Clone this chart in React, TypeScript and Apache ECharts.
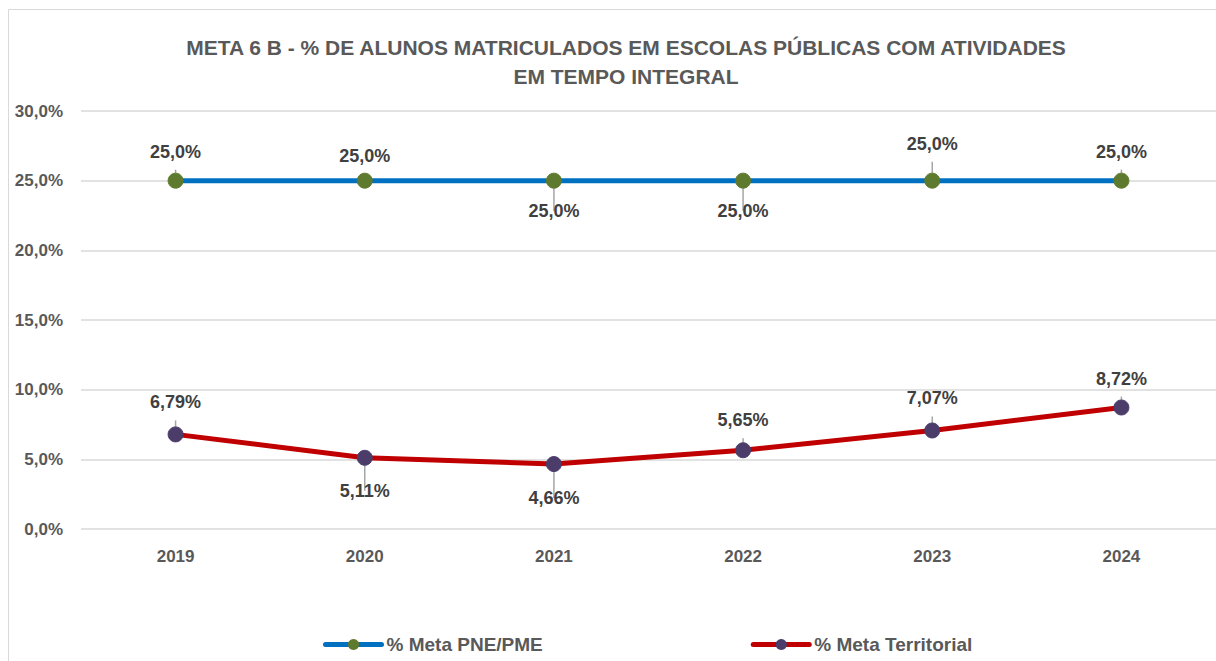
import React, { useEffect, useRef } from "react";
import * as echarts from "echarts";

const categories = ["2019", "2020", "2021", "2022", "2023", "2024"];
const metaPne = [25.0, 25.0, 25.0, 25.0, 25.0, 25.0];
const metaTerritorial = [6.79, 5.11, 4.66, 5.65, 7.07, 8.72];
const pneLabelPos = ["top", "top", "bottom", "bottom", "top", "top"];
const pneLabelDist = [12, 8, 13, 13, 20, 12];
const terrLabelPos = ["top", "bottom", "bottom", "top", "top", "top"];
const terrLabelDist = [15, 16, 17, 13, 15, 12];
const yTicks = [0, 5, 10, 15, 20, 25, 30];

const FONT = "'Liberation Sans Narrow', 'Arial Narrow', 'Liberation Sans', Arial, sans-serif";

const fmt1 = (v: number) => v.toFixed(1).replace(".", ",") + "%";
const fmt2 = (v: number) => v.toFixed(2).replace(".", ",") + "%";

export default function App() {
  const ref = useRef<HTMLDivElement>(null);
  useEffect(() => {
    if (!ref.current) return;
    const chart = echarts.init(ref.current, null, { renderer: "svg" });
    const labelStyle = {
      show: true,
      fontFamily: FONT,
      fontWeight: "bold" as const,
      fontSize: 18,
      color: "#404040",
    };
    chart.setOption({
      animation: false,
      backgroundColor: "#ffffff",
      graphic: [
        {
          type: "rect",
          shape: { x: 8.5, y: 9.5, width: 1220, height: 700 },
          style: { fill: "none", stroke: "#d9d9d9", lineWidth: 1 },
          silent: true,
        },
      ],
      title: {
        text: "META 6 B - % DE ALUNOS MATRICULADOS EM ESCOLAS PÚBLICAS COM ATIVIDADES\nEM TEMPO INTEGRAL",
        left: 621,
        top: 28,
        textAlign: "center",
        textStyle: {
          fontFamily: FONT,
          fontWeight: "bold",
          fontSize: 21,
          color: "#595959",
          lineHeight: 29,
        },
      },
      legend: {
        bottom: 2,
        left: 318,
        itemGap: 208,
        itemWidth: 56,
        itemHeight: 14,
        lineStyle: { width: 5, cap: "round" },
        textStyle: {
          fontFamily: FONT,
          fontWeight: "bold",
          fontSize: 19,
          color: "#595959",
        },
        data: ["% Meta PNE/PME", "% Meta Territorial"],
      },
      grid: { left: 81, top: 111, width: 1138, height: 418, containLabel: false },
      xAxis: {
        type: "category",
        data: categories,
        boundaryGap: true,
        axisLine: { show: false },
        axisTick: { show: false },
        axisLabel: {
          fontFamily: FONT,
          fontWeight: "bold",
          fontSize: 17,
          color: "#595959",
          margin: 19,
        },
      },
      yAxis: {
        type: "value",
        min: yTicks[0],
        max: yTicks[yTicks.length - 1],
        interval: 5,
        axisLine: { show: false },
        axisTick: { show: false },
        splitLine: { lineStyle: { color: "#d9d9d9", width: 1.5 } },
        axisLabel: {
          fontFamily: FONT,
          fontWeight: "bold",
          fontSize: 17,
          color: "#595959",
          margin: 18,
          formatter: (v: number) => fmt1(v),
        },
      },
      series: [
        {
          name: "% Meta PNE/PME",
          type: "line",
          data: metaPne.map((v, i) => ({
            value: v,
            label: { position: pneLabelPos[i], distance: pneLabelDist[i] },
          })),
          symbol: "circle",
          symbolSize: 15,
          lineStyle: { color: "#0070C0", width: 5 },
          itemStyle: { color: "#5E7A2E", borderColor: "#5E7A2E" },
          label: { ...labelStyle, formatter: (p: any) => fmt1(p.value) },
          labelLine: { show: true, lineStyle: { color: "#a6a6a6", width: 1.5 } },
          z: 3,
        },
        {
          name: "% Meta Territorial",
          type: "line",
          data: metaTerritorial.map((v, i) => ({
            value: v,
            label: { position: terrLabelPos[i], distance: terrLabelDist[i] },
          })),
          symbol: "circle",
          symbolSize: 15,
          lineStyle: { color: "#C00000", width: 5 },
          itemStyle: { color: "#4B3C6A", borderColor: "#4B3C6A" },
          label: { ...labelStyle, formatter: (p: any) => fmt2(p.value) },
          labelLine: { show: true, lineStyle: { color: "#a6a6a6", width: 1.5 } },
          z: 3,
        },
      ],
    });
    return () => chart.dispose();
  }, []);
  return (
    <div
      ref={ref}
      style={{ position: "absolute", left: 0, top: 0, width: 1216, height: 661 }}
    />
  );
}
